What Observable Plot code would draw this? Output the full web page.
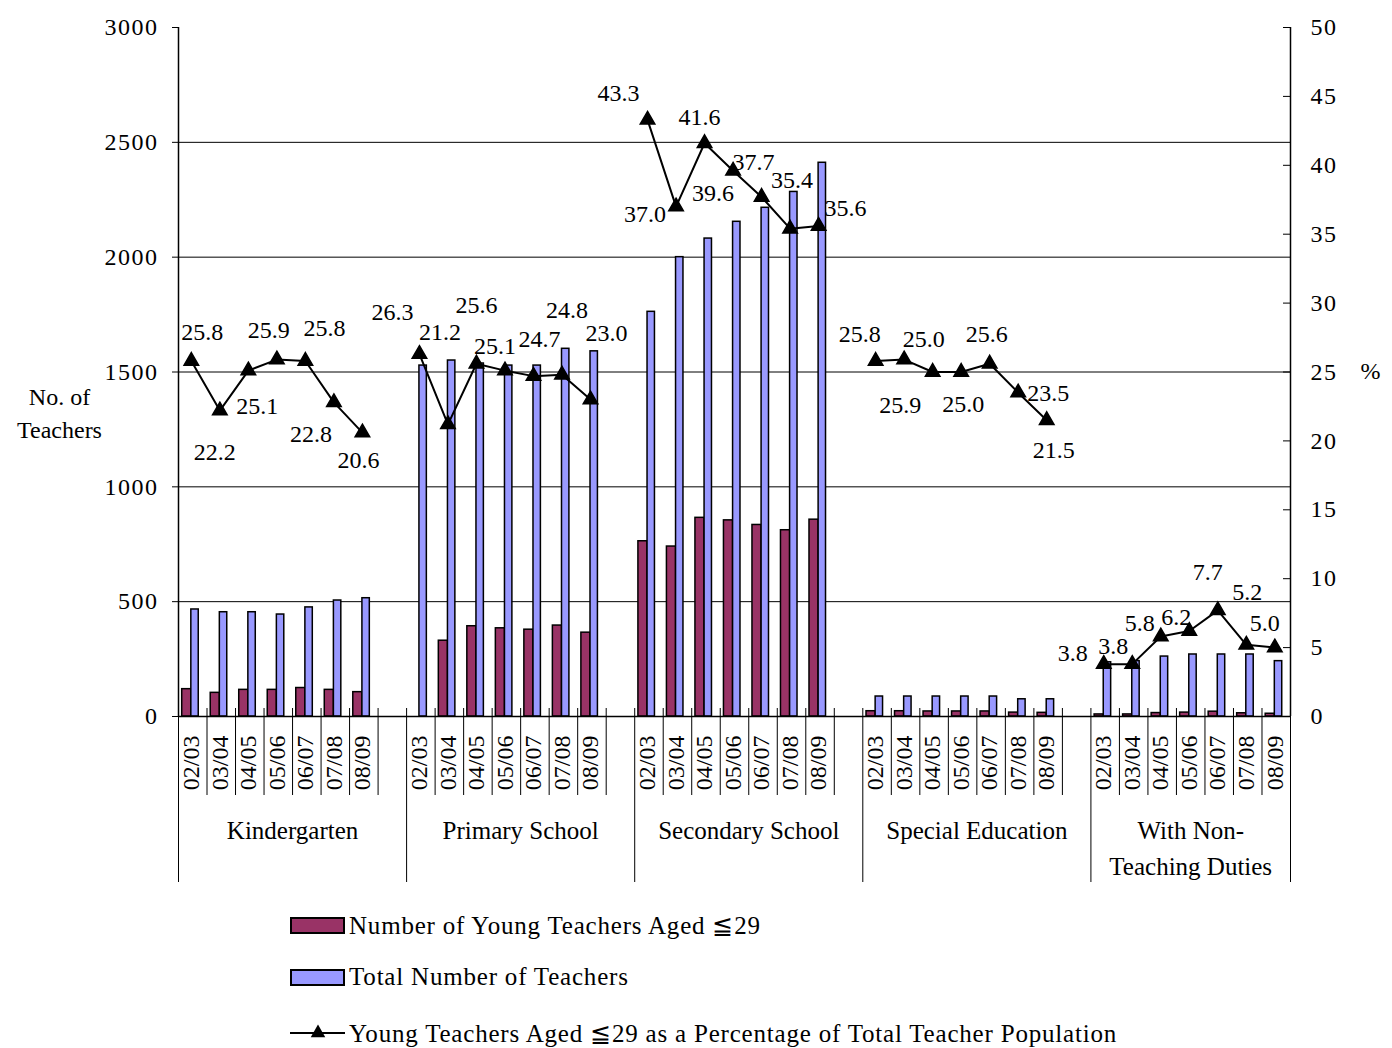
<!DOCTYPE html>
<html><head><meta charset="utf-8">
<script src="https://cdn.jsdelivr.net/npm/d3@7"></script>
<script src="https://cdn.jsdelivr.net/npm/@observablehq/plot@0.6"></script>
<style>
body{margin:0;background:#fff;font-family:"Liberation Serif","Times New Roman",serif;color:#000;}
#wrap{position:relative;width:1392px;height:1048px;overflow:hidden;}
#wrap svg{position:absolute;left:0;top:0;overflow:visible;}
g[aria-label="y-axis tick label"] text{letter-spacing:1.5px;}
.leg{position:absolute;left:290px;height:30px;display:flex;align-items:center;font-size:25px;letter-spacing:0.8px;white-space:nowrap;}
.sw{width:51px;height:13px;border:2px solid #000;margin-right:4px;}
</style></head><body><div id="wrap"></div>
<script>
// ---- data ----
const categories = ["Kindergarten", "Primary School", "Secondary School", "Special Education", "With Non-\nTeaching Duties"];
const years = ["02/03", "03/04", "04/05", "05/06", "06/07", "07/08", "08/09"];

const kgYoung = [119, 103, 116, 116, 124, 116, 106];
const kgTotal = [466, 454, 454, 444, 475, 505, 515];
const kgPct   = [25.8, 22.2, 25.1, 25.9, 25.8, 22.8, 20.6];

const psYoung = [null, 330, 393, 384, 378, 396, 365];
const psTotal = [1528, 1550, 1537, 1528, 1528, 1601, 1590];
const psPct   = [26.3, 21.2, 25.6, 25.1, 24.7, 24.8, 23.0];

const ssYoung = [763, 740, 865, 854, 834, 811, 857];
const ssTotal = [1762, 2000, 2081, 2154, 2215, 2284, 2411];
const ssPct   = [43.3, 37.0, 41.6, 39.6, 37.7, 35.4, 35.6];

const seYoung = [23, 23, 22, 22, 22, 17, 16];
const seTotal = [87, 87, 87, 87, 87, 75, 75];
const sePct   = [25.8, 25.9, 25.0, 25.0, 25.6, 23.5, 21.5];

const ntYoung = [9, 9, 15, 17, 21, 14, 12];
const ntTotal = [236, 241, 261, 270, 270, 270, 241];
const ntPct   = [3.8, 3.8, 5.8, 6.2, 7.7, 5.2, 5.0];

const leftTicks = [0, 500, 1000, 1500, 2000, 2500, 3000];
const rightTicks = [0, 5, 10, 15, 20, 25, 30, 35, 40, 45, 50];

// ---- label placement (pixel nudges, styling only) ----
const labelNudge = [
  [[11,-29],[-5,42],[9,36],[-8,-29],[19,-33],[-23,32],[-4,28]],
  [[-27,-42],[-8,-92],[0,-58],[-10,-24],[6,-37],[5,-64],[16,-66]],
  [[-29,-27],[-31,8],[-5,-26],[-20,23],[-8,-35],[2,-48],[27,-18]],
  [[-16,-27],[-4,46],[-9,-33],[2,32],[-3,-29],[30,1],[7,30]],
  [[-31,-11],[-19,-18],[-21,-13],[-13,-14],[-10,-38],[1,-53],[-10,-24]]
];

// ---- build table ----
const youngSeries = [kgYoung, psYoung, ssYoung, seYoung, ntYoung];
const totalSeries = [kgTotal, psTotal, ssTotal, seTotal, ntTotal];
const pctSeries = [kgPct, psPct, ssPct, sePct, ntPct];
const SLOTS = 8; // 7 years + 1 spacer
const NSLOT = categories.length * SLOTS - 1;
const C = 0.45, RW = 0.32, BW = 0.26;
const PCT = 3000 / 50; // right axis -> left axis units

const rows = categories.flatMap((cat, g) => years.map((year, j) => ({
  cat, g, j, year, slot: g * SLOTS + j,
  young: youngSeries[g][j], total: totalSeries[g][j], pct: pctSeries[g][j]
})));

const W = 1392, H = 900, mL = 178, mR = 102, mT = 27, mB = 184;
const plotH = H - mT - mB, plotW = W - mL - mR;

const shortBounds = [], longBounds = [];
categories.forEach((c, g) => {
  longBounds.push(g * SLOTS);
  for (let j = 1; j <= 7; j++) { const b = g * SLOTS + j; if (b < NSLOT) shortBounds.push(b); }
});
longBounds.push(NSLOT);

const labelMarks = rows.map(d => Plot.text([d], {
  x: r => r.slot + C, y: r => r.pct * PCT, text: r => r.pct.toFixed(1),
  dx: labelNudge[d.g][d.j][0], dy: labelNudge[d.g][d.j][1], fontSize: 24
}));

const chart = Plot.plot({
  width: W, height: H,
  marginLeft: mL, marginRight: mR, marginTop: mT, marginBottom: mB,
  style: {fontFamily: "Liberation Serif, Times New Roman, serif", fontSize: "24px", background: "#fff", overflow: "visible"},
  x: {type: "linear", domain: [0, NSLOT], axis: null},
  y: {domain: [0, 3000], axis: null, label: null},
  marks: [
    Plot.ruleY([500, 1000, 1500, 2000, 2500], {stroke: "#000", strokeWidth: 1}),
    Plot.rectY(rows.filter(d => d.young != null), {x1: d => d.slot + C - RW, x2: d => d.slot + C, y1: 0, y2: "young", fill: "#993366", stroke: "#000", strokeWidth: 1.5}),
    Plot.rectY(rows, {x1: d => d.slot + C, x2: d => d.slot + C + BW, y1: 0, y2: "total", fill: "#9999FF", stroke: "#000", strokeWidth: 1.5}),
    Plot.ruleX([0, NSLOT], {stroke: "#000", strokeWidth: 1.5}),
    Plot.ruleY([0], {stroke: "#000", strokeWidth: 1.5}),
    Plot.ruleX(shortBounds, {stroke: "#000", strokeWidth: 1, insetTop: plotH - 8, insetBottom: -79}),
    Plot.ruleX(longBounds, {stroke: "#000", strokeWidth: 1, insetTop: plotH - 8, insetBottom: -166}),
    Plot.ruleY(rightTicks.map(p => p * PCT), {stroke: "#000", strokeWidth: 1, insetLeft: plotW - 7}),
    Plot.line(rows, {x: d => d.slot + C, y: d => d.pct * PCT, z: "cat", stroke: "#000", strokeWidth: 2}),
    Plot.dot(rows, {x: d => d.slot + C, y: d => d.pct * PCT, symbol: "triangle", r: 5.4, fill: "#000", stroke: "#000"}),
    ...labelMarks,
    Plot.axisY({ticks: leftTicks, tickFormat: d => String(d), tickSize: 6, tickPadding: 14, label: null, fontSize: 24}),
    Plot.axisY({anchor: "right", ticks: rightTicks.map(p => p * PCT), tickFormat: d => String(Math.round(d / PCT)), tickSize: 0, tickPadding: 20, label: null, fontSize: 24}),
    Plot.text(rows, {x: d => d.slot + C, y: 0, text: "year", rotate: -90, textAnchor: "end", lineAnchor: "middle", dy: 19, fontSize: 24}),
    Plot.text(categories, {x: (d, i) => (i * SLOTS + Math.min(i * SLOTS + SLOTS, NSLOT)) / 2, y: 0, text: d => d, lineAnchor: "top", dy: 97, lineHeight: 1.44, fontSize: 25}),
    Plot.text(["%"], {frameAnchor: "right", dx: 90, dy: -1, text: d => d, fontSize: 24}),
    Plot.text(["No. of\nTeachers"], {frameAnchor: "left", dx: -119, dy: 39, text: d => d, textAnchor: "middle", lineHeight: 1.38, fontSize: 24})
  ]
});

const wrap = document.getElementById("wrap");
wrap.appendChild(chart);

// ---- legend (below the SVG) ----
const legend = [
  {type: "bar", color: "#993366", text: "Number of Young Teachers Aged \u226629", top: 910},
  {type: "bar", color: "#9999FF", text: "Total Number of Teachers", top: 962},
  {type: "line", text: "Young Teachers Aged \u226629 as a Percentage of Total Teacher Population", top: 1018}
];
legend.forEach(l => {
  const div = document.createElement("div");
  div.className = "leg";
  div.style.top = l.top + "px";
  if (l.type === "bar") {
    const s = document.createElement("div");
    s.className = "sw"; s.style.background = l.color;
    div.appendChild(s);
  } else {
    const ns = "http://www.w3.org/2000/svg";
    const svg = document.createElementNS(ns, "svg");
    svg.setAttribute("width", 59); svg.setAttribute("height", 20);
    svg.style.position = "static";
    const ln = document.createElementNS(ns, "line");
    ln.setAttribute("x1", 0); ln.setAttribute("x2", 55); ln.setAttribute("y1", 10); ln.setAttribute("y2", 10);
    ln.setAttribute("stroke", "#000"); ln.setAttribute("stroke-width", 2);
    const tri = document.createElementNS(ns, "path");
    tri.setAttribute("d", d3.symbol(d3.symbolTriangle, Math.PI * 5.4 * 5.4)());
    tri.setAttribute("transform", "translate(28,10)");
    svg.appendChild(ln); svg.appendChild(tri);
    div.appendChild(svg);
  }
  const t = document.createElement("span");
  t.textContent = l.text;
  div.appendChild(t);
  wrap.appendChild(div);
});
</script></body></html>
